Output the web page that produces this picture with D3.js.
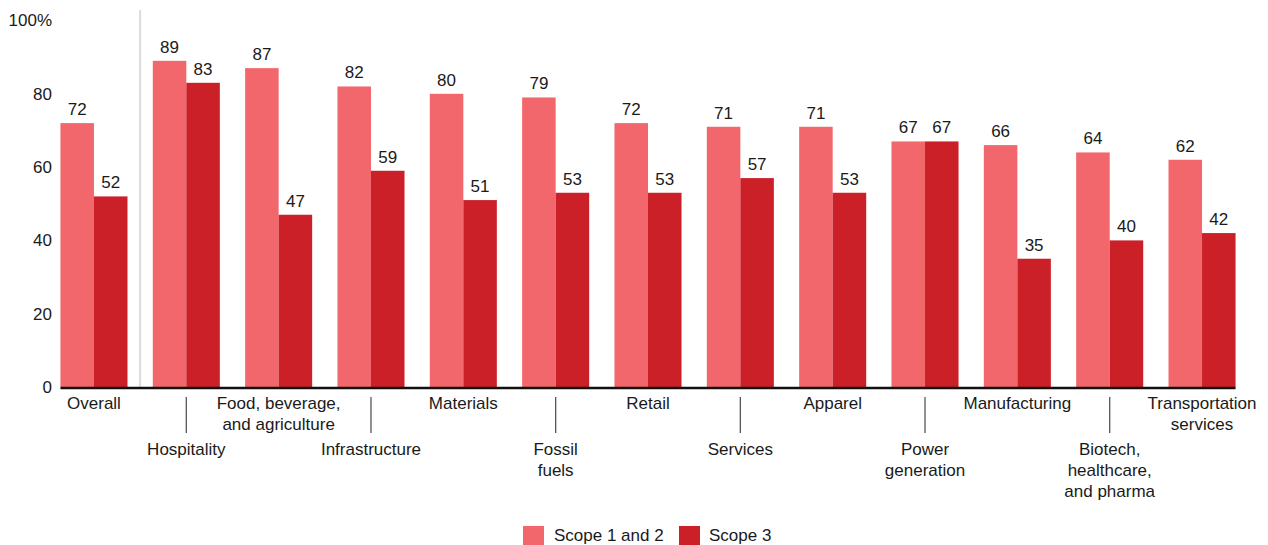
<!DOCTYPE html>
<html><head><meta charset="utf-8">
<script src="https://cdn.jsdelivr.net/npm/d3@7"></script>
<style>body{margin:0;background:#fff}svg{display:block;font-family:"Liberation Sans",Arial,sans-serif}</style>
</head><body><svg id="c" width="1268" height="545"></svg>
<script>
const categories = [["Overall"],["Hospitality"],["Food, beverage,","and agriculture"],["Infrastructure"],["Materials"],["Fossil","fuels"],["Retail"],["Services"],["Apparel"],["Power","generation"],["Manufacturing"],["Biotech,","healthcare,","and pharma"],["Transportation","services"]];
const seriesNames = ["Scope 1 and 2","Scope 3"];
const scope12 = [72,89,87,82,80,79,72,71,71,67,66,64,62];
const scope3 = [52,83,47,59,51,53,53,57,53,67,35,40,42];
const yTicks = [0,20,40,60,80,100];
const colors = ["#F2676B","#CC2028"];
const FS = 17;

const svg = d3.select("#c");
const keys = categories.map(c=>c.join(" "));
const x = d3.scaleBand().domain(keys).range([47.8,1248.2]).paddingInner(0.274).paddingOuter(0.137);
const x1 = d3.scaleBand().domain(seriesNames).range([0,x.bandwidth()]);
const y = d3.scaleLinear().domain([0,100]).range([387,20.5]);

// y labels
svg.append("g").selectAll("text").data(yTicks).join("text")
  .attr("x",52).attr("y",d=>y(d)).attr("dy","0.35em").attr("text-anchor","end")
  .attr("font-size",FS).attr("fill","#1a1a1a").text(d=>d===100?"100%":d);

// separator
const sepX = (x(keys[0])+x.bandwidth()+x(keys[1]))/2;
svg.append("line").attr("x1",sepX).attr("x2",sepX).attr("y1",10).attr("y2",y(0))
  .attr("stroke","#dcdcdc").attr("stroke-width",2);

const data = keys.map((k,i)=>({k, vals:[scope12[i],scope3[i]]}));
const g = svg.append("g").selectAll("g").data(data).join("g").attr("transform",d=>`translate(${x(d.k)},0)`);
g.selectAll("rect").data(d=>d.vals.map((v,j)=>({v,s:seriesNames[j],j}))).join("rect")
  .attr("x",d=>x1(d.s)).attr("width",x1.bandwidth()).attr("y",d=>y(d.v)).attr("height",d=>y(0)-y(d.v))
  .attr("fill",d=>colors[d.j]);
g.selectAll("text").data(d=>d.vals.map((v,j)=>({v,s:seriesNames[j]}))).join("text")
  .attr("x",d=>x1(d.s)+x1.bandwidth()/2).attr("y",d=>y(d.v)-8).attr("text-anchor","middle")
  .attr("font-size",FS).attr("fill","#1a1a1a").text(d=>d.v);

// baseline
svg.append("line").attr("x1",x(keys[0])).attr("x2",x(keys[keys.length-1])+x.bandwidth())
  .attr("y1",y(0)+1).attr("y2",y(0)+1).attr("stroke","#111").attr("stroke-width",2.5);

// category labels
const cl = svg.append("g").selectAll("g").data(categories).join("g")
  .attr("transform",(d,i)=>`translate(${x(keys[i])+x.bandwidth()/2},0)`);
cl.filter((d,i)=>i%2===1).append("line").attr("x1",0).attr("x2",0).attr("y1",397).attr("y2",433)
  .attr("stroke","#555").attr("stroke-width",1.3);
cl.each(function(d,i){
  const base = i%2===0 ? 409 : 455;
  d3.select(this).selectAll("text").data(d).join("text")
    .attr("x",0).attr("y",(t,j)=>base+j*21).attr("text-anchor","middle")
    .attr("font-size",FS).attr("fill","#1a1a1a").text(t=>t);
});

// legend
const leg = svg.append("g");
const items = [{n:seriesNames[0],x:523,tx:554},{n:seriesNames[1],x:679,tx:709}];
items.forEach((it,i)=>{
  leg.append("rect").attr("x",it.x).attr("y",526).attr("width",21).attr("height",19).attr("fill",colors[i]);
  leg.append("text").attr("x",it.tx).attr("y",541).attr("font-size",FS).attr("fill","#1a1a1a").text(it.n);
});
</script></body></html>
